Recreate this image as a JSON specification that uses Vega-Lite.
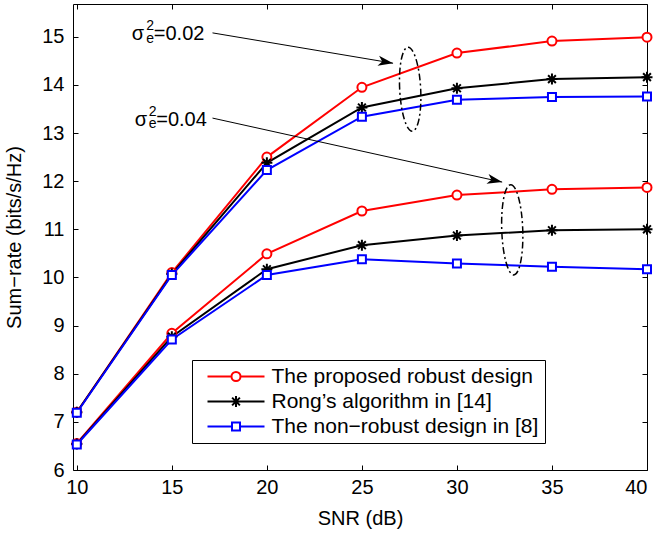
{
  "$schema": "https://vega.github.io/schema/vega-lite/v6.json",
  "width": 574,
  "height": 466,
  "autosize": {"type": "none"},
  "padding": {"left": 73, "top": 4, "right": 13, "bottom": 65},
  "background": "white",
  "config": {
    "font": "Liberation Sans",
    "view": {"stroke": null},
    "axis": {"grid": false, "domainColor": "black", "tickColor": "black", "labelColor": "black", "titleColor": "black", "labelFont": "Liberation Sans", "titleFont": "Liberation Sans", "labelFontSize": 20, "titleFontSize": 20, "titleFontWeight": "normal", "tickSize": -5, "domainWidth": 1, "tickWidth": 1}
  },
  "datasets": {
    "series": [
      {"snr": 10, "rate": 7.2, "method": "The proposed robust design", "case": "a"},
      {"snr": 15, "rate": 10.1, "method": "The proposed robust design", "case": "a"},
      {"snr": 20, "rate": 12.5, "method": "The proposed robust design", "case": "a"},
      {"snr": 25, "rate": 13.95, "method": "The proposed robust design", "case": "a"},
      {"snr": 30, "rate": 14.66, "method": "The proposed robust design", "case": "a"},
      {"snr": 35, "rate": 14.91, "method": "The proposed robust design", "case": "a"},
      {"snr": 40, "rate": 14.99, "method": "The proposed robust design", "case": "a"},
      {"snr": 10, "rate": 6.55, "method": "The proposed robust design", "case": "b"},
      {"snr": 15, "rate": 8.84, "method": "The proposed robust design", "case": "b"},
      {"snr": 20, "rate": 10.49, "method": "The proposed robust design", "case": "b"},
      {"snr": 25, "rate": 11.38, "method": "The proposed robust design", "case": "b"},
      {"snr": 30, "rate": 11.71, "method": "The proposed robust design", "case": "b"},
      {"snr": 35, "rate": 11.83, "method": "The proposed robust design", "case": "b"},
      {"snr": 40, "rate": 11.87, "method": "The proposed robust design", "case": "b"},
      {"snr": 10, "rate": 7.2, "method": "Rong’s algorithm in [14]", "case": "a"},
      {"snr": 15, "rate": 10.07, "method": "Rong’s algorithm in [14]", "case": "a"},
      {"snr": 20, "rate": 12.38, "method": "Rong’s algorithm in [14]", "case": "a"},
      {"snr": 25, "rate": 13.53, "method": "Rong’s algorithm in [14]", "case": "a"},
      {"snr": 30, "rate": 13.93, "method": "Rong’s algorithm in [14]", "case": "a"},
      {"snr": 35, "rate": 14.12, "method": "Rong’s algorithm in [14]", "case": "a"},
      {"snr": 40, "rate": 14.16, "method": "Rong’s algorithm in [14]", "case": "a"},
      {"snr": 10, "rate": 6.54, "method": "Rong’s algorithm in [14]", "case": "b"},
      {"snr": 15, "rate": 8.77, "method": "Rong’s algorithm in [14]", "case": "b"},
      {"snr": 20, "rate": 10.17, "method": "Rong’s algorithm in [14]", "case": "b"},
      {"snr": 25, "rate": 10.67, "method": "Rong’s algorithm in [14]", "case": "b"},
      {"snr": 30, "rate": 10.87, "method": "Rong’s algorithm in [14]", "case": "b"},
      {"snr": 35, "rate": 10.98, "method": "Rong’s algorithm in [14]", "case": "b"},
      {"snr": 40, "rate": 11.0, "method": "Rong’s algorithm in [14]", "case": "b"},
      {"snr": 10, "rate": 7.19, "method": "The non−robust design in [8]", "case": "a"},
      {"snr": 15, "rate": 10.05, "method": "The non−robust design in [8]", "case": "a"},
      {"snr": 20, "rate": 12.23, "method": "The non−robust design in [8]", "case": "a"},
      {"snr": 25, "rate": 13.34, "method": "The non−robust design in [8]", "case": "a"},
      {"snr": 30, "rate": 13.69, "method": "The non−robust design in [8]", "case": "a"},
      {"snr": 35, "rate": 13.75, "method": "The non−robust design in [8]", "case": "a"},
      {"snr": 40, "rate": 13.76, "method": "The non−robust design in [8]", "case": "a"},
      {"snr": 10, "rate": 6.53, "method": "The non−robust design in [8]", "case": "b"},
      {"snr": 15, "rate": 8.71, "method": "The non−robust design in [8]", "case": "b"},
      {"snr": 20, "rate": 10.05, "method": "The non−robust design in [8]", "case": "b"},
      {"snr": 25, "rate": 10.38, "method": "The non−robust design in [8]", "case": "b"},
      {"snr": 30, "rate": 10.29, "method": "The non−robust design in [8]", "case": "b"},
      {"snr": 35, "rate": 10.22, "method": "The non−robust design in [8]", "case": "b"},
      {"snr": 40, "rate": 10.17, "method": "The non−robust design in [8]", "case": "b"}
    ],
    "notes": [
      {"x": 13.22, "y": 15.05, "t": "σ", "k": "sym"},
      {"x": 14.05, "y": 15.05, "t": "=0.02", "k": "eq"},
      {"x": 13.86, "y": 15.22, "t": "2", "k": "script"},
      {"x": 13.86, "y": 14.96, "t": "e", "k": "script"},
      {"x": 13.38, "y": 13.27, "t": "σ", "k": "sym"},
      {"x": 14.18, "y": 13.27, "t": "=0.04", "k": "eq"},
      {"x": 13.99, "y": 13.44, "t": "2", "k": "script"},
      {"x": 13.99, "y": 13.18, "t": "e", "k": "script"}
    ],
    "arrows": [
      {"x": 17.14, "y": 15.08, "x2": 26.64, "y2": 14.45, "id": "a"},
      {"x": 17.14, "y": 13.31, "x2": 32.38, "y2": 11.98, "id": "b"}
    ],
    "ellipses": [
      {"x": 27.54, "y": 13.91, "id": "a"},
      {"x": 32.91, "y": 10.99, "id": "b"}
    ]
  },
  "layer": [
    {
      "layer": [
        {
          "data": {"name": "series"},
          "mark": {"type": "line", "strokeWidth": 2},
          "encoding": {
            "x": {"field": "snr", "type": "quantitative", "scale": {"domain": [9.8, 40], "nice": false, "zero": false}, "axis": {"orient": "bottom", "values": [10, 15, 20, 25, 30, 35, 40], "title": "SNR (dB)", "labelPadding": 12, "titlePadding": 11}},
            "y": {"field": "rate", "type": "quantitative", "scale": {"domain": [6, 15.68], "nice": false, "zero": false}, "axis": {"orient": "left", "values": [6, 7, 8, 9, 10, 11, 12, 13, 14, 15], "title": "Sum−rate (bits/s/Hz)", "labelPadding": 14, "titlePadding": 17}},
            "color": {"field": "method", "type": "nominal", "scale": {"domain": ["The proposed robust design", "Rong’s algorithm in [14]", "The non−robust design in [8]"], "range": ["#ff0000", "#000000", "#0000ff"]},
              "legend": {"title": null, "orient": "none", "legendX": 119, "legendY": 356, "labelFontSize": 21, "labelFont": "Liberation Sans", "labelColor": "black", "strokeColor": "black", "fillColor": "white", "padding": 6, "symbolSize": 100, "symbolStrokeWidth": 2, "rowPadding": 3, "symbolOffset": 27.5, "labelOffset": 25, "labelLimit": 500}},
            "detail": {"field": "case"}
          }
        },
        {
          "data": {"name": "series"},
          "transform": [{"filter": "datum.method === 'The proposed robust design'"}],
          "mark": {"type": "point", "shape": "M-0.9,0A0.9,0.9 0 1,1 0.9,0A0.9,0.9 0 1,1 -0.9,0Z", "filled": false, "fill": "white", "opacity": 1, "strokeWidth": 2, "size": 100},
          "encoding": {
            "x": {"field": "snr", "type": "quantitative"},
            "y": {"field": "rate", "type": "quantitative"},
            "color": {"field": "method", "type": "nominal"}
          }
        },
        {
          "data": {"name": "series"},
          "transform": [{"filter": "datum.method === 'Rong’s algorithm in [14]'"}],
          "mark": {"type": "point", "shape": "M-1.1,0H1.1M0,-1.1V1.1M-0.78,-0.78L0.78,0.78M-0.78,0.78L0.78,-0.78", "filled": false, "fill": "white", "opacity": 1, "strokeWidth": 2, "size": 100},
          "encoding": {
            "x": {"field": "snr", "type": "quantitative"},
            "y": {"field": "rate", "type": "quantitative"},
            "color": {"field": "method", "type": "nominal"}
          }
        },
        {
          "data": {"name": "series"},
          "transform": [{"filter": "datum.method === 'The non−robust design in [8]'"}],
          "mark": {"type": "point", "shape": "M-0.8,-0.8H0.8V0.8H-0.8Z", "filled": false, "fill": "white", "opacity": 1, "strokeWidth": 2, "size": 100},
          "encoding": {
            "x": {"field": "snr", "type": "quantitative"},
            "y": {"field": "rate", "type": "quantitative"},
            "color": {"field": "method", "type": "nominal"}
          }
        },
        {
          "data": {"name": "series"},
          "transform": [{"filter": "false"}],
          "mark": {"type": "point", "filled": false, "fill": "white", "opacity": 1, "strokeWidth": 2, "size": 100},
          "encoding": {
            "x": {"field": "snr", "type": "quantitative"},
            "y": {"field": "rate", "type": "quantitative"},
            "color": {"field": "method", "type": "nominal"},
            "shape": {"field": "method", "type": "nominal", "scale": {"domain": ["The proposed robust design", "Rong’s algorithm in [14]", "The non−robust design in [8]"], "range": ["M-5.7,0H-0.9M0.9,0H5.7M-0.9,0A0.9,0.9 0 1,1 0.9,0A0.9,0.9 0 1,1 -0.9,0Z", "M-5.7,0H5.7M0,-1.1V1.1M-0.78,-0.78L0.78,0.78M-0.78,0.78L0.78,-0.78", "M-5.7,0H-0.8M0.8,0H5.7M-0.8,-0.8H0.8V0.8H-0.8Z"]},
              "legend": {"title": null, "orient": "none", "legendX": 119, "legendY": 356, "labelFontSize": 21, "labelFont": "Liberation Sans", "labelColor": "black", "strokeColor": "black", "fillColor": "white", "padding": 6, "symbolSize": 100, "symbolStrokeWidth": 2, "rowPadding": 3, "symbolOffset": 27.5, "labelOffset": 25, "labelLimit": 500}}
          }
        },
        {
          "data": {"name": "arrows"},
          "mark": {"type": "rule", "color": "black", "strokeWidth": 1},
          "encoding": {"x": {"field": "x", "type": "quantitative"}, "y": {"field": "y", "type": "quantitative"}, "x2": {"field": "x2"}, "y2": {"field": "y2"}}
        },
        {
          "data": {"name": "arrows"},
          "transform": [{"filter": "datum.id === 'a'"}],
          "mark": {"type": "point", "shape": "M0,0L-3,-1L-2.2,0L-3,1Z", "size": 100, "filled": true, "color": "black", "opacity": 1, "angle": 9.4},
          "encoding": {"x": {"field": "x2", "type": "quantitative"}, "y": {"field": "y2", "type": "quantitative"}}
        },
        {
          "data": {"name": "arrows"},
          "transform": [{"filter": "datum.id === 'b'"}],
          "mark": {"type": "point", "shape": "M0,0L-3,-1L-2.2,0L-3,1Z", "size": 100, "filled": true, "color": "black", "opacity": 1, "angle": 12.4},
          "encoding": {"x": {"field": "x2", "type": "quantitative"}, "y": {"field": "y2", "type": "quantitative"}}
        },
        {
          "data": {"name": "ellipses"},
          "transform": [{"filter": "datum.id === 'a'"}],
          "mark": {"type": "point", "shape": "M0,-4A1,4 0 1,1 0,4A1,4 0 1,1 0,-4Z", "size": 441, "filled": false, "color": "black", "strokeWidth": 1.5, "strokeDash": [7, 3, 2, 3], "opacity": 1, "angle": -3},
          "encoding": {"x": {"field": "x", "type": "quantitative"}, "y": {"field": "y", "type": "quantitative"}}
        },
        {
          "data": {"name": "ellipses"},
          "transform": [{"filter": "datum.id === 'b'"}],
          "mark": {"type": "point", "shape": "M0,-4.3A1,4.3 0 1,1 0,4.3A1,4.3 0 1,1 0,-4.3Z", "size": 441, "filled": false, "color": "black", "strokeWidth": 1.5, "strokeDash": [7, 3, 2, 3], "opacity": 1, "angle": -2},
          "encoding": {"x": {"field": "x", "type": "quantitative"}, "y": {"field": "y", "type": "quantitative"}}
        },
        {
          "data": {"name": "notes"},
          "transform": [{"filter": "datum.k === 'sym'"}],
          "mark": {"type": "text", "fontSize": 20, "align": "center", "baseline": "middle", "color": "black"},
          "encoding": {"x": {"field": "x", "type": "quantitative"}, "y": {"field": "y", "type": "quantitative"}, "text": {"field": "t"}}
        },
        {
          "data": {"name": "notes"},
          "transform": [{"filter": "datum.k === 'eq'"}],
          "mark": {"type": "text", "fontSize": 20, "align": "left", "baseline": "middle", "color": "black"},
          "encoding": {"x": {"field": "x", "type": "quantitative"}, "y": {"field": "y", "type": "quantitative"}, "text": {"field": "t"}}
        },
        {
          "data": {"name": "notes"},
          "transform": [{"filter": "datum.k === 'script'"}],
          "mark": {"type": "text", "fontSize": 14, "align": "center", "baseline": "middle", "color": "black"},
          "encoding": {"x": {"field": "x", "type": "quantitative"}, "y": {"field": "y", "type": "quantitative"}, "text": {"field": "t"}}
        }
      ]
    },
    {
      "data": {"name": "series"},
      "mark": {"type": "point", "opacity": 0},
      "encoding": {
        "x": {"field": "snr", "type": "quantitative", "axis": {"orient": "top", "values": [10, 15, 20, 25, 30, 35, 40], "labels": false, "title": null}},
        "y": {"field": "rate", "type": "quantitative", "axis": {"orient": "right", "values": [6, 7, 8, 9, 10, 11, 12, 13, 14, 15], "labels": false, "title": null}}
      }
    }
  ],
  "resolve": {"axis": {"x": "independent", "y": "independent"}}
}
